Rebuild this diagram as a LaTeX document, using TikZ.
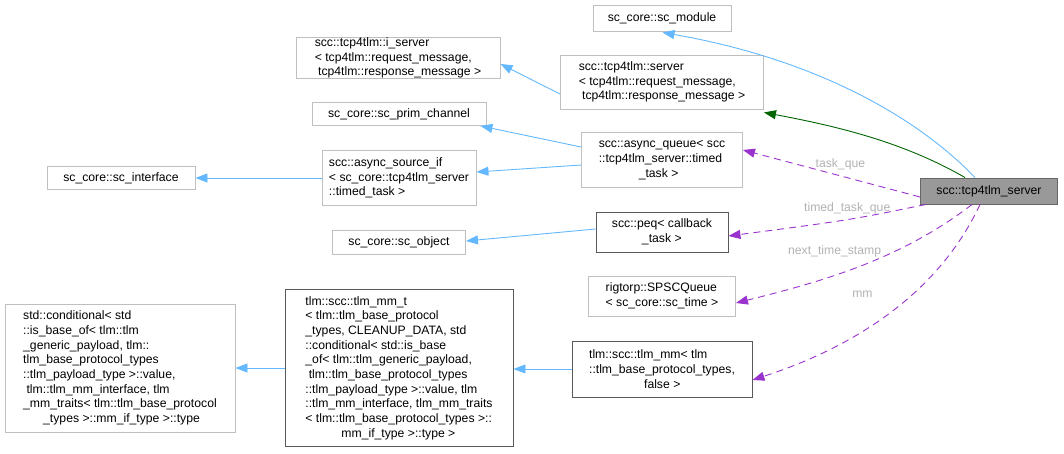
\documentclass[tikz,border=0pt]{standalone}
\usepackage{fontspec}
\setmainfont{Liberation Sans}
\usetikzlibrary{arrows.meta}
\definecolor{inh}{HTML}{63B8FF}
\definecolor{priv}{HTML}{006400}
\definecolor{use}{HTML}{9A32CD}
\tikzset{
  box/.style={draw=black!25, line width=0.9pt, inner sep=0pt, align=left, font=\fontsize{12.2}{14.7}\selectfont},
  doc/.style={box, draw=black!65},
  inherit/.style={draw=inh, line width=0.9pt, -{Triangle[length=12pt,width=9pt,fill=inh]}},
  private/.style={draw=priv, line width=0.9pt, -{Triangle[length=12pt,width=9pt,fill=priv]}},
  member/.style={draw=use, line width=0.9pt, dash pattern=on 7pt off 5pt, -{Triangle[length=12pt,width=9pt,fill=use]}},
  lbl/.style={text=black!30, font=\fontsize{12.2}{14}\selectfont}
}
\begin{document}
\begin{tikzpicture}[x=1pt,y=-1pt]
\useasboundingbox (0,0) rectangle (1064,453);
% nodes
\node[box, minimum width=138pt, minimum height=26pt] (scmod) at (662,18) {sc\_core::sc\_module};
\node[box, minimum width=203pt, minimum height=54pt] (srv) at (662,82) {scc::tcp4tlm::server\\ < tcp4tlm::request\_message,\\ \ tcp4tlm::response\_message >};
\node[box, minimum width=204pt, minimum height=40pt] (isrv) at (398,58) {scc::tcp4tlm::i\_server\\ < tcp4tlm::request\_message,\\ \ tcp4tlm::response\_message >};
\node[box, minimum width=174pt, minimum height=23pt] (prim) at (399,114) {sc\_core::sc\_prim\_channel};
\node[box, minimum width=154pt, minimum height=55pt] (asrc) at (399,178) {scc::async\_source\_if\\ < sc\_core::tcp4tlm\_server\\ ::timed\_task >};
\node[box, minimum width=148pt, minimum height=23pt] (iface) at (121,178) {sc\_core::sc\_interface};
\node[box, minimum width=161pt, minimum height=55pt] (aq) at (662,160) {scc::async\_queue< scc\\ ::tcp4tlm\_server::timed\\ \hspace*{40pt}\_task >};
\node[box, fill=black!40, draw=black!60, minimum width=137pt, minimum height=26pt] (tsrv) at (989,191) {scc::tcp4tlm\_server};
\node[doc, minimum width=132pt, minimum height=40pt] (peq) at (662,232) {scc::peq< callback\\ \hspace*{30pt}\_task >};
\node[box, minimum width=133pt, minimum height=24pt] (obj) at (399,242) {sc\_core::sc\_object};
\node[box, minimum width=147pt, minimum height=40pt] (spsc) at (662,296) {rigtorp::SPSCQueue\\ < sc\_core::sc\_time >};
\node[doc, minimum width=180pt, minimum height=56pt] (mm) at (662,369) {tlm::scc::tlm\_mm< tlm\\ ::tlm\_base\_protocol\_types,\\ \hspace*{55pt}false >};
\node[doc, minimum width=228pt, minimum height=157pt] (mmt) at (399,368) {tlm::scc::tlm\_mm\_t\\ < tlm::tlm\_base\_protocol\\ \_types, CLEANUP\_DATA, std\\ ::conditional< std::is\_base\\ \_of< tlm::tlm\_generic\_payload,\\ \ tlm::tlm\_base\_protocol\_types\\ ::tlm\_payload\_type >::value, tlm\\ ::tlm\_mm\_interface, tlm\_mm\_traits\\ < tlm::tlm\_base\_protocol\_types >::\\ \hspace*{36pt}mm\_if\_type >::type >};
\node[box, minimum width=230pt, minimum height=128pt] (cond) at (120,368) {std::conditional< std\\ ::is\_base\_of< tlm::tlm\\ \_generic\_payload, tlm::\\ tlm\_base\_protocol\_types\\ ::tlm\_payload\_type >::value,\\ \ tlm::tlm\_mm\_interface, tlm\\ \_mm\_traits< tlm::tlm\_base\_protocol\\ \hspace*{20pt}\_types >::mm\_if\_type >::type};
% inheritance
\draw[inherit] ([xshift=-14pt]tsrv.north) .. controls (920,120) and (820,60) .. ([xshift=-69pt,yshift=-1pt]scmod.south east);
\draw[private] ([xshift=-24pt]tsrv.north) .. controls (900,140) and (830,125) .. ([yshift=-3pt]srv.south east);
\draw[inherit] ([yshift=-12pt]srv.west) -- ([yshift=-6pt]isrv.east);
\draw[inherit] ([yshift=13pt]aq.west) -- ([xshift=-6pt]prim.south east);
\draw[inherit] ([yshift=-5pt]aq.west) -- ([yshift=6pt]asrc.east);
\draw[inherit] (asrc) -- (iface);
\draw[inherit] ([yshift=3pt]peq.west) -- ([yshift=1pt]obj.east);
\draw[inherit] (mm) -- (mmt.east |- mm);
\draw[inherit] (mmt.west |- cond) -- (cond);
% members
\draw[member] ([yshift=-6pt]tsrv.west) -- node[lbl, above, pos=0.45, yshift=2pt] {task\_que} ([yshift=10pt]aq.east);
\draw[member] ([xshift=-63pt]tsrv.south) .. controls (850,220) .. ([yshift=-4pt]peq.east) node[lbl, pos=0.48, above=2pt] {timed\_task\_que};
\draw[member] ([xshift=-17pt]tsrv.south) .. controls (900,260) and (820,282) .. ([yshift=-7pt]spsc.east) node[lbl, pos=0.6, above=14pt] {next\_time\_stamp};
\draw[member] ([xshift=-9pt]tsrv.south) .. controls (940,290) and (860,345) .. ([yshift=-11pt]mm.east) node[lbl, pos=0.62, above=30pt] {mm};
\end{tikzpicture}
\end{document}
